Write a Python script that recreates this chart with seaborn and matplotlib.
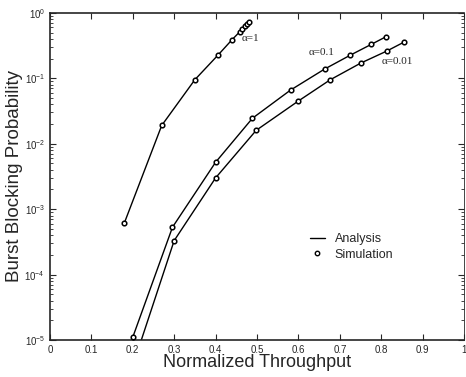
"""Burst blocking probability vs normalized throughput (analysis + simulation)."""

import matplotlib
matplotlib.use("Agg")
import matplotlib.pyplot as plt
from matplotlib.lines import Line2D
import numpy as np
import pandas as pd
import seaborn as sns

# values
alpha1_x = [0.18, 0.27, 0.35, 0.407, 0.44, 0.458, 0.465, 0.47, 0.475, 0.48]
alpha1_y = [6.2e-4, 1.9e-2, 9.5e-2, 0.23, 0.39, 0.51, 0.57, 0.62, 0.67, 0.72]

alpha01_x = [0.2, 0.296, 0.40, 0.489, 0.581, 0.663, 0.725, 0.776, 0.811]
alpha01_y = [1.1e-5, 5.3e-4, 5.2e-3, 0.0245, 0.066, 0.138, 0.225, 0.33, 0.43]

alpha001_x = [0.20, 0.30, 0.40, 0.498, 0.60, 0.677, 0.75, 0.813, 0.856]
alpha001_y = [4e-6, 3.3e-4, 3.0e-3, 0.016, 0.045, 0.095, 0.17, 0.26, 0.36]

curve_names = ["α=1", "α=0.1", "α=0.01"]
x_ticks = [0, 0.1, 0.2, 0.3, 0.4, 0.5, 0.6, 0.7, 0.8, 0.9, 1.0]
x_ticklabels = ["0", "0.1", "0.2", "0.3", "0.4", "0.5", "0.6", "0.7", "0.8", "0.9", "1"]

frames = []
for name, xs, ys in zip(curve_names,
                        [alpha1_x, alpha01_x, alpha001_x],
                        [alpha1_y, alpha01_y, alpha001_y]):
    frames.append(pd.DataFrame({"x": xs, "y": ys, "curve": name}))
df = pd.concat(frames, ignore_index=True)

sns.set_style("ticks")
plt.rcParams["font.family"] = ["Liberation Sans", "DejaVu Sans"]

fig = plt.figure(figsize=(4.66, 3.77), dpi=100)
ax = fig.add_axes([0.107, 0.098, 0.889, 0.868])

palette = {n: "black" for n in curve_names}
sns.lineplot(data=df, x="x", y="y", hue="curve", palette=palette,
             linewidth=1.0, legend=False, ax=ax, sort=False)
sns.scatterplot(data=df, x="x", y="y", hue="curve", palette=palette,
                marker="o", s=11, linewidth=1.1, legend=False, ax=ax, zorder=3)
for coll in ax.collections:
    coll.set_facecolor("white")
    coll.set_edgecolor("black")

ax.set_yscale("log")
ax.set_xlim(0, 1.0)
ax.set_ylim(1e-5, 1)
ax.set_xticks(x_ticks)
ax.set_xticklabels(x_ticklabels)
ax.tick_params(axis="both", which="both", direction="in", labelsize=7)
ax.tick_params(axis="both", which="major", length=4, width=0.8)
ax.tick_params(axis="y", which="minor", length=2, width=0.6)
ax.yaxis.set_ticks_position("both")
ax.xaxis.set_ticks_position("both")
for side in ("left", "bottom", "top"):
    ax.spines[side].set_linewidth(1.2)
ax.spines["right"].set_linewidth(0.6)
ax.spines["right"].set_linestyle((0, (2, 1)))

ax.set_xlabel("Normalized Throughput", fontsize=13, labelpad=-1)
ax.set_ylabel("Burst Blocking Probability", fontsize=13.5, labelpad=1)

serif = ["Liberation Serif", "DejaVu Serif"]
ax.text(0.462, 0.40, "α=1", fontsize=8, family=serif, va="center")
ax.text(0.625, 0.245, "α=0.1", fontsize=8, family=serif, va="center")
ax.text(0.80, 0.178, "α=0.01", fontsize=8, family=serif, va="center")

handles = [
    Line2D([], [], color="black", linewidth=1.0),
    Line2D([], [], color="black", linestyle="none", marker="o",
           markersize=3.2, markerfacecolor="white", markeredgewidth=1.0),
]
ax.legend(handles, ["Analysis", "Simulation"], loc="upper left",
          bbox_to_anchor=(0.6, 0.36), frameon=False, fontsize=9,
          handlelength=1.2, handletextpad=0.8, labelspacing=0.25)

fig.savefig("out.png", dpi=100)
plt.close(fig)
